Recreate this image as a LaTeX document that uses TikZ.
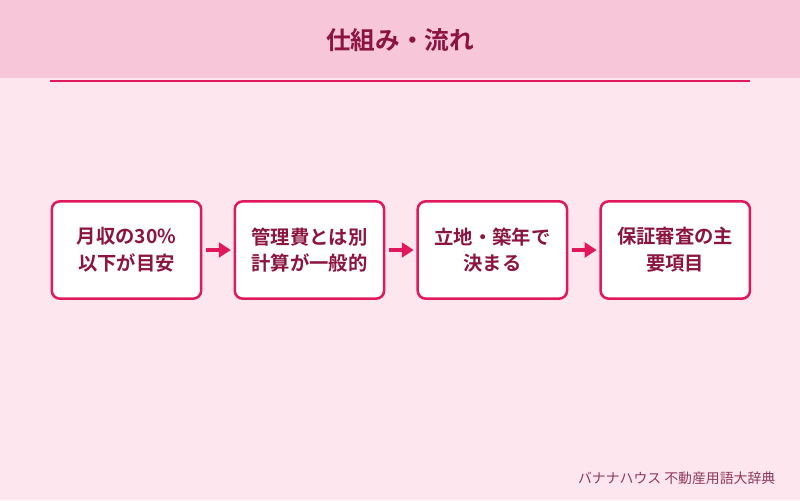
\documentclass[tikz,border=0pt]{standalone}
\usepackage{fontspec}
\setmainfont{Noto Sans CJK JP}[BoldFont={Noto Sans CJK JP Bold}]
\usetikzlibrary{arrows.meta,positioning}
\definecolor{bgpink}{HTML}{FDE6EE}
\definecolor{headpink}{HTML}{F8C6D9}
\definecolor{accent}{HTML}{E0195F}
\definecolor{textdark}{HTML}{8B1540}
\definecolor{footgray}{HTML}{8C3A5C}

\begin{document}
\begin{tikzpicture}[
  x=0.75pt, y=-0.75pt,
  node distance=23.3pt,
  stepbox/.style={draw=accent, fill=white, rectangle, rounded corners=6pt, line width=1.9pt,
    minimum width=112pt, minimum height=73pt, align=center, text=textdark,
    font=\fontsize{14.5pt}{20pt}\selectfont\bfseries},
  flow/.style={draw=accent, line width=2.3pt, -{Triangle[length=9pt,width=11pt]},
    shorten <=3pt, shorten >=2pt}
]
% background and header
\fill[bgpink] (0,0) rectangle (800,500);
\fill[headpink] (0,0) rectangle (800,78);
\draw[accent, line width=1.5pt] (50,80.5) -- (750,80.5);
\node[text=textdark, font=\fontsize{18.5pt}{22pt}\selectfont\bfseries] (title) at (400,40) {仕組み・流れ};

% steps
\node[stepbox] (s1) at (126.5,250) {月収の30\%\\以下が目安};
\node[stepbox, right=of s1] (s2) {管理費とは別\\計算が一般的};
\node[stepbox, right=of s2] (s3) {立地・築年で\\決まる};
\node[stepbox, right=of s3] (s4) {保証審査の主\\要項目};

\draw[flow] (s1) -- (s2);
\draw[flow] (s2) -- (s3);
\draw[flow] (s3) -- (s4);

% footer
\node[anchor=east, text=footgray, font=\fontsize{10.4pt}{12pt}\selectfont] (credit) at (780,478) {バナナハウス 不動産用語大辞典};
\end{tikzpicture}
\end{document}
